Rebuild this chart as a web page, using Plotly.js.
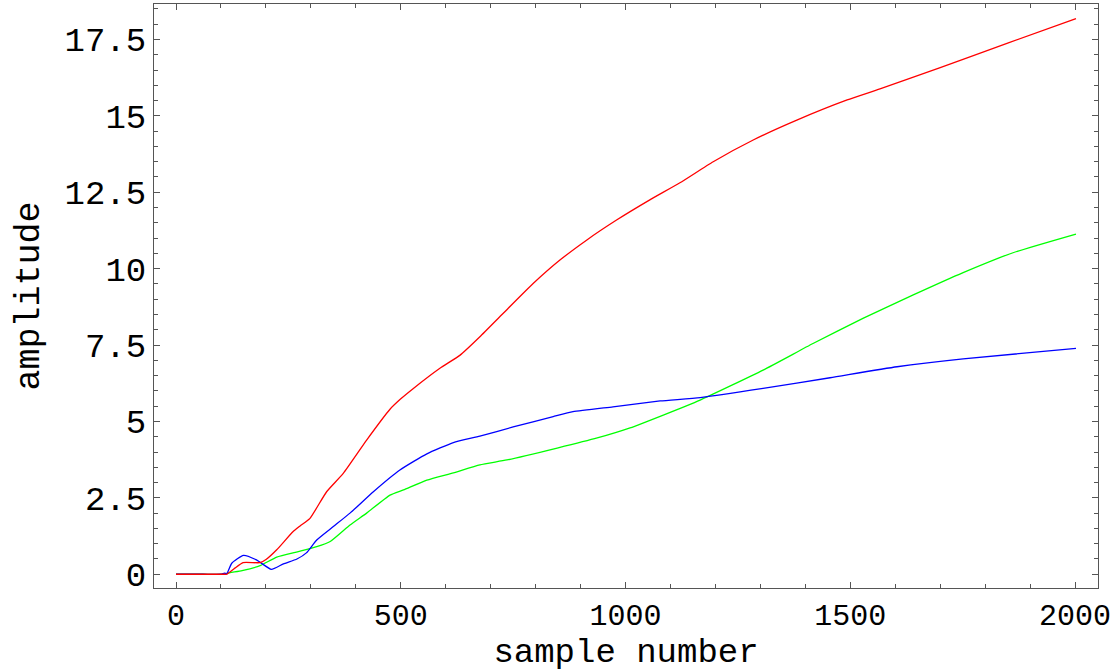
<!DOCTYPE html>
<html>
<head>
<meta charset="utf-8">
<script src="https://cdn.plot.ly/plotly-3.0.1.min.js"></script>
<style>html,body{margin:0;padding:0;background:#fff;}#chart{width:1120px;height:672px;}</style>
</head>
<body>
<div id="chart"></div>
<script>
const redX   = [0, 60, 108, 113, 131, 149, 187, 201, 224, 260, 276, 298, 335, 372, 424, 476, 500, 528, 587, 632, 676, 728, 795, 854, 914, 980, 1054, 1121, 1195, 1284, 1381, 1493, 1566, 1700, 1850, 2002];
const redY   = [0, 0, 0, 0, 0.2, 0.38, 0.38, 0.49, 0.8, 1.39, 1.58, 1.83, 2.70, 3.30, 4.39, 5.40, 5.74, 6.08, 6.74, 7.17, 7.77, 8.54, 9.52, 10.28, 10.94, 11.59, 12.25, 12.81, 13.5, 14.21, 14.86, 15.52, 15.88, 16.58, 17.38, 18.18];
const blueX  = [0, 60, 100, 108, 113, 124, 150, 179, 212, 239, 269, 290, 313, 350, 387, 439, 498, 558, 617, 676, 750, 839, 883, 972, 1077, 1166, 1306, 1455, 1604, 1751, 2002];
const blueY  = [0, 0, 0, 0.04, 0.02, 0.36, 0.62, 0.47, 0.16, 0.34, 0.50, 0.70, 1.12, 1.56, 2.0, 2.70, 3.41, 3.94, 4.31, 4.52, 4.82, 5.16, 5.32, 5.48, 5.67, 5.78, 6.08, 6.43, 6.79, 7.05, 7.39];
const greenX = [0, 60, 108, 113, 147, 187, 224, 272, 313, 343, 387, 424, 476, 506, 558, 617, 676, 736, 848, 937, 1010, 1084, 1166, 1306, 1417, 1528, 1640, 1751, 1862, 2002];
const greenY = [0, 0, 0, 0.03, 0.12, 0.28, 0.56, 0.74, 0.90, 1.07, 1.61, 2.0, 2.59, 2.76, 3.08, 3.32, 3.58, 3.74, 4.13, 4.46, 4.79, 5.21, 5.70, 6.68, 7.55, 8.37, 9.14, 9.87, 10.52, 11.13];
const xTickVals = [0, 500, 1000, 1500, 2000];
const xTickText = ['0', '500', '1000', '1500', '2000'];
const yTickVals = [0, 2.5, 5, 7.5, 10, 12.5, 15, 17.5];
const yTickText = ['0', '2.5', '5', '7.5', '10', '12.5', '15', '17.5'];

const font = 'Liberation Mono, Courier New, monospace';
const mk = (x, y, c) => ({x: x, y: y, type: 'scatter', mode: 'lines', line: {color: c, width: 1.3, shape: 'spline', smoothing: 0.5}, hoverinfo: 'skip'});
const data = [mk(greenX, greenY, '#00ff00'), mk(blueX, blueY, '#0000ff'), mk(redX, redY, '#ff0000')];

const layout = {
  width: 1120, height: 672,
  margin: {l: 154, r: 22, t: 4, b: 84},
  paper_bgcolor: '#fff', plot_bgcolor: '#fff',
  showlegend: false,
  font: {family: font, color: '#000'},
  xaxis: {
    range: [-49, 2051], showgrid: false, zeroline: false,
    showline: true, linecolor: '#555', linewidth: 1, mirror: 'ticks',
    ticks: 'inside', ticklen: 6, tickcolor: '#555', tickwidth: 1,
    tickvals: xTickVals, ticktext: xTickText,
    tickfont: {family: font, size: 30},
    minor: {dtick: 100, ticks: 'inside', ticklen: 4, tickcolor: '#555', showgrid: false},
    title: {text: 'sample number', font: {family: font, size: 34}, standoff: 16}
  },
  yaxis: {
    range: [-0.45, 18.66], showgrid: false, zeroline: false,
    showline: true, linecolor: '#555', linewidth: 1, mirror: 'ticks',
    ticks: 'inside', ticklen: 6, tickcolor: '#555', tickwidth: 1,
    tickvals: yTickVals, ticktext: yTickText,
    tickfont: {family: font, size: 34},
    minor: {dtick: 0.5, ticks: 'inside', ticklen: 4, tickcolor: '#555', showgrid: false},
    title: {text: 'amplitude', font: {family: font, size: 35}, standoff: 14}
  }
};
Plotly.newPlot('chart', data, layout, {staticPlot: true, displayModeBar: false});
</script>
</body>
</html>
